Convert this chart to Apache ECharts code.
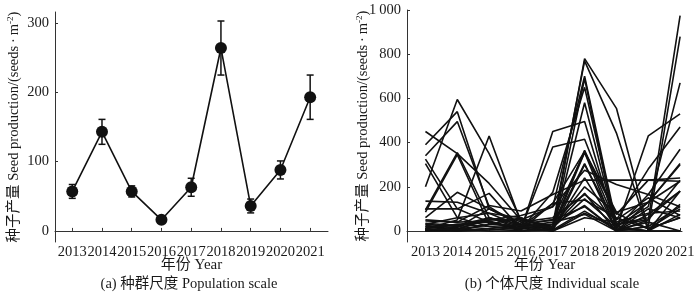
<!DOCTYPE html>
<html>
<head>
<meta charset="utf-8">
<script src="https://cdn.jsdelivr.net/npm/echarts@6/dist/echarts.min.js"></script>
<style>
  html, body { margin: 0; padding: 0; background: #fff; }
  #chart { width: 700px; height: 293px; }
</style>
</head>
<body>
<div id="chart"></div>
<script>
'use strict'

// years on the x axis (both panels)
const years = [2013, 2014, 2015, 2016, 2017, 2018, 2019, 2020, 2021]

// (a) population scale: mean seed production and error bar half-width
const populationMean = [57, 143, 57, 16, 63, 264, 36, 88, 193]
const populationErr = [10, 18, 8, 5, 13, 39, 10, 13, 32]

// (b) individual scale: one row per individual, values for 2013..2021
const individualSeries = [
  [450, 350, 215, 50, 20, 365, 30, 130, 300],
  [390, 540, 100, 30, 10, 780, 555, 10, 60],
  [340, 495, 110, 20, 30, 770, 443, 0, 180],
  [200, 595, 350, 50, 110, 700, 30, 50, 975],
  [10, 50, 430, 40, 0, 690, 0, 20, 880],
  [325, 100, 40, 10, 175, 650, 20, 110, 670],
  [305, 60, 20, 5, 450, 495, 10, 430, 530],
  [95, 355, 60, 10, 380, 415, 50, 280, 470],
  [85, 345, 30, 60, 0, 580, 10, 165, 370],
  [135, 130, 80, 20, 125, 360, 85, 130, 305],
  [60, 175, 100, 30, 50, 355, 75, 230, 240],
  [100, 100, 170, 10, 20, 305, 0, 50, 230],
  [45, 40, 115, 90, 165, 230, 230, 230, 225],
  [30, 20, 50, 70, 110, 275, 210, 165, 110],
  [20, 10, 50, 50, 20, 170, 0, 0, 0],
  [10, 30, 40, 5, 125, 140, 60, 10, 100],
  [5, 0, 10, 30, 50, 110, 0, 75, 180],
  [0, 5, 60, 20, 0, 80, 20, 0, 75],
  [25, 15, 100, 40, 60, 165, 50, 150, 70],
  [15, 30, 20, 10, 30, 115, 0, 100, 60],
  [0, 20, 10, 0, 5, 90, 5, 40, 0],
  [30, 60, 80, 60, 10, 240, 10, 0, 120],
  [50, 40, 45, 10, 0, 300, 30, 60, 180],
  [20, 0, 30, 20, 40, 75, 0, 20, 110],
  [5, 10, 0, 0, 10, 355, 0, 130, 225],
  [0, 0, 5, 15, 20, 200, 80, 10, 60],
  [35, 25, 60, 30, 15, 145, 20, 0, 0],
  [10, 5, 30, 25, 0, 60, 40, 80, 90]
]

const yTicksPopulation = [0, 100, 200, 300]
const yTicksIndividual = [0, 200, 400, 600, 800, 1000]

const FONT = "'Liberation Serif', 'Noto Sans CJK SC', serif"
const INK = '#1a1a1a'
const AXIS_COLOR = '#333'

const yName = '种子产量 Seed production/(seeds\u2009·\u2009m{sup|-2})'

function xAxisFor (gridIndex, max) {
  return {
    type: 'value',
    gridIndex,
    min: 2012.42,
    max,
    name: '年份 Year',
    nameLocation: 'middle',
    nameGap: 16,
    nameMoveOverlap: false,
    nameTextStyle: { fontFamily: FONT, fontSize: 15, color: INK },
    splitLine: { show: false },
    axisLine: { lineStyle: { color: AXIS_COLOR, width: 1 } },
    axisTick: { inside: true, length: 3, customValues: years, lineStyle: { color: AXIS_COLOR } },
    axisLabel: {
      customValues: years,
      formatter: v => String(v),
      fontFamily: FONT,
      fontSize: 14.5,
      color: INK,
      margin: 3
    }
  }
}

function yAxisFor (gridIndex, min, max, ticks, nameGap) {
  return {
    type: 'value',
    gridIndex,
    min,
    max,
    name: yName,
    nameLocation: 'middle',
    nameGap,
    nameMoveOverlap: false,
    nameRotate: 90,
    nameTextStyle: {
      fontFamily: FONT,
      fontSize: 14.5,
      color: INK,
      rich: {
        sup: { fontFamily: FONT, fontSize: 9, color: INK, verticalAlign: 'bottom', padding: [0, 0, 7, 0] }
      }
    },
    splitLine: { show: false },
    axisLine: { show: true, lineStyle: { color: AXIS_COLOR, width: 1 } },
    axisTick: { show: true, inside: true, length: 3, customValues: ticks, lineStyle: { color: AXIS_COLOR } },
    axisLabel: {
      customValues: ticks,
      formatter: v => v >= 1000 ? String(v).replace(/(\d)(\d{3})$/, '$1\u2009$2') : String(v),
      fontFamily: FONT,
      fontSize: 14.5,
      color: INK,
      margin: 6
    }
  }
}

const chart = echarts.init(document.getElementById('chart'), null, { renderer: 'canvas' })

const individualLines = individualSeries.map(row => ({
  type: 'line',
  xAxisIndex: 1,
  yAxisIndex: 1,
  data: years.map((y, i) => [y, row[i]]),
  showSymbol: false,
  symbol: 'none',
  silent: true,
  lineStyle: { color: '#111', width: 1.6 },
  z: 2
}))

const option = {
  animation: false,
  backgroundColor: '#fff',
  grid: [
    { left: 55, right: 372, top: 12, bottom: 51 },
    { left: 407, right: 18, top: 10, bottom: 51 }
  ],
  xAxis: [xAxisFor(0, 2021.6), xAxisFor(1, 2021.06)],
  yAxis: [
    yAxisFor(0, -16, 316, yTicksPopulation, 33),
    yAxisFor(1, -50, 1000, yTicksIndividual, 36)
  ],
  graphic: [
    {
      type: 'text', x: 189, y: 284,
      style: { text: '(a) 种群尺度 Population scale', font: '14.5px ' + FONT, fill: INK, textAlign: 'center', textVerticalAlign: 'middle' }
    },
    {
      type: 'text', x: 552, y: 284,
      style: { text: '(b) 个体尺度 Individual scale', font: '14.5px ' + FONT, fill: INK, textAlign: 'center', textVerticalAlign: 'middle' }
    }
  ],
  series: [
    {
      type: 'custom',
      xAxisIndex: 0,
      yAxisIndex: 0,
      data: years.map((y, i) => [y, populationMean[i], populationErr[i]]),
      encode: { x: 0, y: 1 },
      z: 3,
      renderItem (params, api) {
        const x = api.value(0)
        const m = api.value(1)
        const e = api.value(2)
        const top = api.coord([x, m + e])
        const bot = api.coord([x, m - e])
        const w = 3.5
        const style = { stroke: '#111', lineWidth: 1.5 }
        return {
          type: 'group',
          children: [
            { type: 'line', shape: { x1: top[0], y1: top[1], x2: bot[0], y2: bot[1] }, style },
            { type: 'line', shape: { x1: top[0] - w, y1: top[1], x2: top[0] + w, y2: top[1] }, style },
            { type: 'line', shape: { x1: bot[0] - w, y1: bot[1], x2: bot[0] + w, y2: bot[1] }, style }
          ]
        }
      }
    },
    {
      type: 'line',
      xAxisIndex: 0,
      yAxisIndex: 0,
      data: years.map((y, i) => [y, populationMean[i]]),
      symbol: 'circle',
      symbolSize: 12,
      itemStyle: { color: '#111' },
      lineStyle: { color: '#111', width: 1.6 },
      z: 4
    },
    ...individualLines
  ]
}

chart.setOption(option)
</script>
</body>
</html>
